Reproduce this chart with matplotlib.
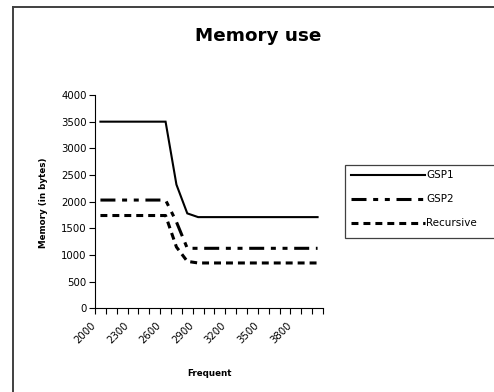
import matplotlib
matplotlib.use("Agg")
import matplotlib.pyplot as plt
from matplotlib.lines import Line2D
from matplotlib.patches import Rectangle

plt.rcParams['font.family'] = ['DejaVu Sans']
plt.rcParams['lines.scale_dashes'] = False

categories = [str(v) for v in range(2000, 4001, 100)]
gsp1 = [3500, 3500, 3500, 3500, 3500, 3500, 3500, 2320, 1780, 1710,
        1710, 1710, 1710, 1710, 1710, 1710, 1710, 1710, 1710, 1710, 1710]
gsp2 = [2030, 2030, 2030, 2030, 2030, 2030, 2030, 1620, 1125, 1125,
        1125, 1125, 1125, 1125, 1125, 1125, 1125, 1125, 1125, 1125, 1125]
recursive = [1740, 1740, 1740, 1740, 1740, 1740, 1740, 1150, 880, 850,
             850, 850, 850, 850, 850, 850, 850, 850, 850, 850, 850]
series_names = ["GSP1", "GSP2", "Recursive"]
yticks = [0, 500, 1000, 1500, 2000, 2500, 3000, 3500, 4000]

W, H = 494, 392
fig = plt.figure(figsize=(W / 100, H / 100), dpi=100)
ax = fig.add_axes([95 / W, 1 - 308.3 / H, (323 - 95) / W, (308.3 - 95) / H])

x = list(range(len(categories)))
ax.plot(x, gsp1, color='black', lw=1.5, ls='-', label=series_names[0],
        solid_joinstyle='miter')
ax.plot(x, gsp2, color='black', lw=2.2, ls=(0, (10.8, 4.8, 3.6, 4.8, 3.6, 4.8)),
        label=series_names[1], dash_capstyle='butt')
ax.plot(x, recursive, color='black', lw=2.2, ls=(0, (5, 3.6)),
        label=series_names[2], dash_capstyle='butt')

ax.set_xlim(-0.5, len(categories) - 0.5)
ax.set_ylim(0, 4000)
ax.set_yticks(yticks)
ax.set_yticklabels([str(v) for v in yticks], fontsize=7.3)
ax.set_xticks([i - 0.5 for i in range(len(categories) + 1)])
ax.set_xticklabels([])
ax.tick_params(axis='both', direction='out', length=4, width=0.8, color='black', pad=2)
for i in range(0, len(categories), 3):
    if i < 19:
        ax.text(i - 0.9, -230, categories[i], rotation=45, ha='right', va='top',
                fontsize=7.3, rotation_mode='anchor')
ax.spines['top'].set_visible(False)
ax.spines['right'].set_visible(False)
ax.spines['left'].set_linewidth(0.8)
ax.spines['bottom'].set_linewidth(0.8)

fig.text(258 / W, 1 - 40.7 / H, "Memory use", ha='center', va='baseline',
         fontsize=13.2, fontweight='bold')
fig.text(44 / W, 1 - 202.5 / H, "Memory (in bytes)", ha='center', va='center',
         rotation=90, fontsize=6.3, fontweight='bold')
fig.text(209.7 / W, 1 - 374 / H, "Frequent", ha='center', va='center',
         fontsize=6.3, fontweight='bold')

# outer chart border (cropped at right and bottom)
fig.add_artist(Line2D([13 / W, 13 / W], [0, 1 - 7 / H], transform=fig.transFigure,
                      color='#404040', lw=1.4))
fig.add_artist(Line2D([13 / W, 1], [1 - 7 / H, 1 - 7 / H], transform=fig.transFigure,
                      color='#404040', lw=1.4))

# legend frame (cropped at right edge)
frame = Rectangle((345 / W, 1 - 237.5 / H), (520 - 345) / W, (237.5 - 165) / H,
                  transform=fig.transFigure, facecolor='white',
                  edgecolor='#404040', lw=0.9, clip_on=False, zorder=1)
ax.add_artist(frame)
leg = ax.legend(loc='upper left', bbox_to_anchor=(347 / W, 1 - 166 / H),
                bbox_transform=fig.transFigure,
                borderaxespad=0, fontsize=7.5, handlelength=7.1, handletextpad=0.12,
                labelspacing=1.35, borderpad=0.4, frameon=False)
leg.set_zorder(5)

fig.savefig("out.png", dpi=100)
